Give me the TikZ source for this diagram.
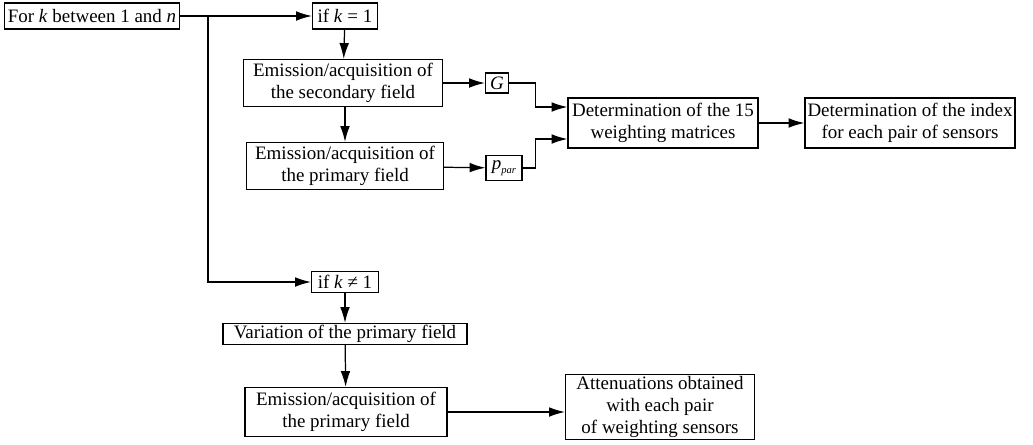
\documentclass[tikz,border=0pt]{standalone}
\usepackage{fontspec}
\setmainfont{Liberation Serif}
\usetikzlibrary{arrows.meta}
\begin{document}
\begin{tikzpicture}[x=0.02cm,y=-0.02cm,
    box/.style={draw,line width=0.7pt,align=center,inner sep=0pt,
      font=\fontsize{10.8}{12.6}\selectfont},
    arr/.style={-{Latex[length=9pt,width=5.5pt]},line width=0.7pt}]
    \useasboundingbox (0,0) rectangle (1033,444);
    \node[box,minimum width=3.5cm,minimum height=0.52cm] (for) at (92,16) {For \textit{k} between 1 and \textit{n}};
    \node[box,minimum width=1.3cm,minimum height=0.52cm] (ifone) at (345,16) {if \textit{k} = 1};
    \node[box,minimum width=3.98cm,minimum height=0.94cm] (sec) at (343,83) {Emission/acquisition of\\the secondary field};
    \node[box,minimum width=0.46cm,minimum height=0.4cm] (gain) at (497,83) {\textit{G}};
    \node[box,minimum width=3.94cm,minimum height=0.94cm] (prim) at (345,166) {Emission/acquisition of\\the primary field};
    \node[box,minimum width=0.72cm,minimum height=0.5cm] (ppar) at (504,168) {\textit{p}\raisebox{-2pt}{\fontsize{6}{6}\selectfont\textit{par}}};
    \node[box,minimum width=3.8cm,minimum height=1cm] (det) at (663,123) {Determination of the 15\\weighting matrices};
    \node[box,minimum width=4.2cm,minimum height=1cm] (idx) at (910,123) {Determination of the index\\for each pair of sensors};
    \node[box,minimum width=1.34cm,minimum height=0.42cm] (ifnot) at (345,282) {if \textit{k} ≠ 1};
    \node[box,minimum width=4.88cm,minimum height=0.42cm] (var) at (345,334) {Variation of the primary field};
    \node[box,minimum width=4.04cm,minimum height=0.98cm] (primb) at (346,412) {Emission/acquisition of\\the primary field};
    \node[box,minimum width=3.78cm,minimum height=1.3cm] (att) at (660,407) {Attenuations obtained\\with each pair\\of weighting sensors};
    \coordinate (split) at (208,16);
    \draw[arr] (for) -- (ifone);
    \draw[arr] (split) |- (ifnot);
    \draw[arr] (ifone) -- (sec);
    \draw[arr] (sec.south -| prim) -- (prim);
    \draw[arr] (sec) -- (gain);
    \draw[arr] (prim) -- (ppar);
    \draw[arr] (gain.east) -| ([xshift=-0.64cm,yshift=0.32cm]det.west) -- ([yshift=0.32cm]det.west);
    \draw[arr] (ppar.east) -| ([xshift=-0.64cm,yshift=-0.32cm]det.west) -- ([yshift=-0.32cm]det.west);
    \draw[arr] (det) -- (idx);
    \draw[arr] (ifnot) -- (var);
    \draw[arr] (var) -- (primb);
    \draw[arr] (primb.east) -- (primb.east -| att.west);
\end{tikzpicture}
\end{document}
